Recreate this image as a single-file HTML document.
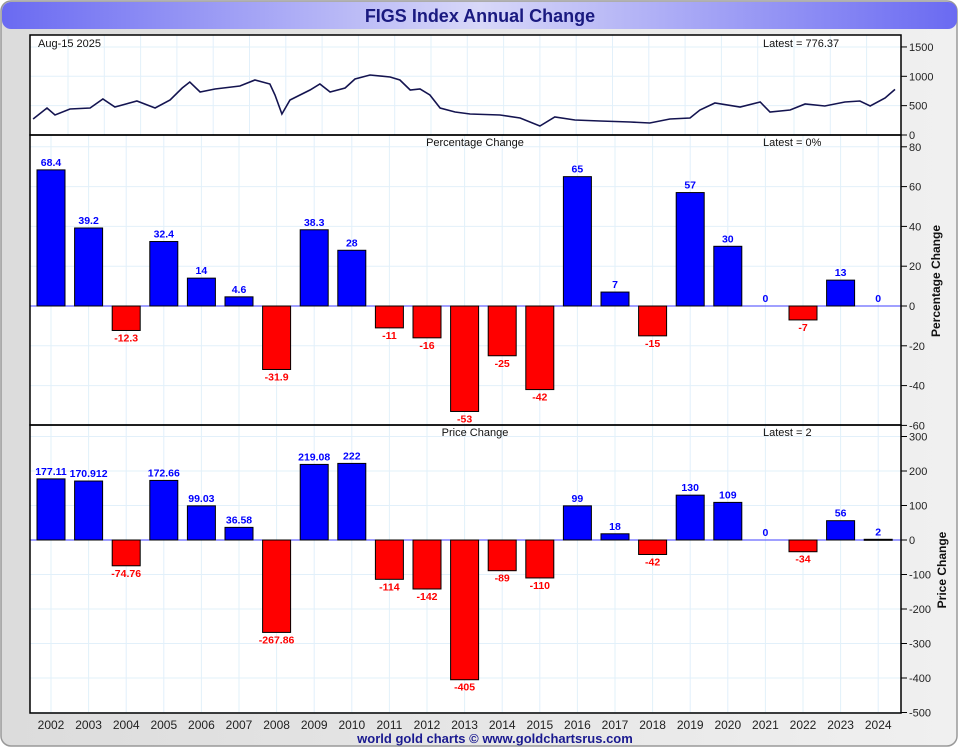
<!DOCTYPE html>
<html><head><meta charset="utf-8"><style>
body{margin:0;width:960px;height:750px;overflow:hidden;background:#fff;font-family:"Liberation Sans",sans-serif}
</style></head><body>
<svg id="c" width="960" height="750" xmlns="http://www.w3.org/2000/svg" font-family="Liberation Sans, sans-serif">
<defs>
<linearGradient id="tg" x1="0" x2="1"><stop offset="0" stop-color="#6a6af2"/><stop offset="0.5" stop-color="#d8d8f8"/><stop offset="1" stop-color="#6a6af2"/></linearGradient>
<linearGradient id="bg" x1="0" x2="1"><stop offset="0" stop-color="#dcdcdc"/><stop offset="1" stop-color="#f0f0f0"/></linearGradient>
</defs>
<rect x="1" y="1" width="956" height="745" rx="10" fill="url(#bg)" stroke="#999" stroke-width="1.5"/>
<rect x="2" y="2" width="955" height="27" rx="9" fill="url(#tg)"/>
<text x="480" y="22" text-anchor="middle" font-size="18" font-weight="bold" fill="#1a1a80">FIGS Index Annual Change</text>
<g id="g"></g>
<text x="495" y="743" text-anchor="middle" font-size="13" font-weight="bold" fill="#1a1a90">world gold charts © www.goldchartsrus.com</text>
</svg>
<script>
const years=["2002","2003","2004","2005","2006","2007","2008","2009","2010","2011","2012","2013","2014","2015","2016","2017","2018","2019","2020","2021","2022","2023","2024"];
const pctValues=[68.4,39.2,-12.3,32.4,14,4.6,-31.9,38.3,28,-11,-16,-53,-25,-42,65,7,-15,57,30,0,-7,13,0];
const pctLabels=["68.4","39.2","-12.3","32.4","14","4.6","-31.9","38.3","28","-11","-16","-53","-25","-42","65","7","-15","57","30","0","-7","13","0"];
const priceValues=[177.11,170.912,-74.76,172.66,99.03,36.58,-267.86,219.08,222,-114,-142,-405,-89,-110,99,18,-42,130,109,0,-34,56,2];
const priceLabels=["177.11","170.912","-74.76","172.66","99.03","36.58","-267.86","219.08","222","-114","-142","-405","-89","-110","99","18","-42","130","109","0","-34","56","2"];
const pctTicks=[80,60,40,20,0,-20,-40,-60];
const priceTicks=[300,200,100,0,-100,-200,-300,-400,-500];
const idxTicks=[1500,1000,500,0];
const idxDates=[2002.03,2002.41,2002.63,2003.04,2003.59,2003.94,2004.27,2004.87,2005.37,2005.78,2006.11,2006.32,2006.60,2007.01,2007.69,2008.10,2008.51,2008.65,2008.84,2009.06,2009.61,2009.88,2010.16,2010.57,2010.84,2011.25,2011.80,2012.07,2012.35,2012.62,2012.89,2013.17,2013.58,2013.99,2014.81,2015.36,2015.90,2016.31,2016.86,2017.55,2018.37,2018.91,2019.46,2020.01,2020.28,2020.69,2021.38,2021.93,2022.20,2022.75,2023.16,2023.70,2024.25,2024.66,2024.94,2025.35,2025.62];
const idxValues=[273,460,341,443,460,613,477,579,460,596,801,903,733,784,835,937,869,681,358,596,767,869,733,801,954,1022,988,937,767,784,681,460,392,358,341,290,153,307,256,239,221,204,273,290,426,545,477,562,392,426,528,494,562,579,494,630,776];

const NS="http://www.w3.org/2000/svg";
const G=document.getElementById('g');
function mk(t,a,txt){const e=document.createElementNS(NS,t);for(const k in a)e.setAttribute(k,a[k]);if(txt!==undefined)e.textContent=txt;G.appendChild(e);return e;}
const L=30,R=901,step=37.6,x0=51,bw=28;
const xYear=i=>x0+i*step;
const yIdx=v=>135-v*0.0587;
const yPct=v=>306-v*1.99;
const yPrice=v=>540-v*0.345;
const xDate=d=>32+(d-2002)*(863/23.62);

[[35,100],[135,290],[425,288]].forEach((p,i)=>{const r=mk('rect',{x:L,y:p[0],width:R-L,height:p[1],fill:'#fff'});

});
for(let i=0;i<23;i++){const x=xYear(i);
 const l=mk('line',{x1:x,x2:x,y1:135,y2:713,stroke:'#e2f0fa','stroke-width':1});
 
 }
for(let i=0;i<24;i++){const x=68+i*36.3;if(x>=R)break;
 const l=mk('line',{x1:x,x2:x,y1:35,y2:135,stroke:'#e2f0fa','stroke-width':1});
 
 }
function hgrid(ticks,f,name){ticks.forEach(t=>{const y=f(t);
 const l=mk('line',{x1:L,x2:R,y1:y,y2:y,stroke:'#e2f0fa','stroke-width':1});
 
 
 const k=mk('line',{x1:R,x2:R+6,y1:y,y2:y,stroke:'#000'});
 
 
 const tx=mk('text',{x:R+8,y:y+4,'font-size':11,fill:'#222'},String(t));
 
 });}
hgrid(idxTicks,yIdx,'index-axis');hgrid(pctTicks,yPct,'pct-axis');hgrid(priceTicks,yPrice,'price-axis');

const pts=idxDates.map((d,i)=>xDate(d).toFixed(1)+','+yIdx(idxValues[i]).toFixed(1)).join(' ');
const pl=mk('polyline',{points:pts,fill:'none',stroke:'#141450','stroke-width':1.6});



[[yPct(0),'pct-zero-line'],[yPrice(0),'price-zero-line']].forEach(z=>{const l=mk('line',{x1:L,x2:R,y1:z[0],y2:z[0],stroke:'#4040ff','stroke-width':1});
 
 });

function bars(vals,labs,f,name){vals.forEach((v,i)=>{const x=xYear(i)-bw/2,y0=f(0),y=f(v);
 if(v!==0){const r=mk('rect',{x:x,y:Math.min(y,y0),width:bw,height:Math.max(Math.abs(y-y0),1),fill:v>0?'#0000ff':'#ff0000',stroke:'#000','stroke-width':1});
 
 }
 const ty=v>=0?y-4:y+11;
 const t=mk('text',{x:xYear(i),y:ty,'text-anchor':'middle','font-size':10.5,'font-weight':'bold',fill:v>=0?'#0000ff':'#ff0000'},labs[i]);
 
 });}
bars(pctValues,pctLabels,yPct,'pct');bars(priceValues,priceLabels,yPrice,'price');

years.forEach((yr,i)=>{const t=mk('text',{x:xYear(i),y:729,'text-anchor':'middle','font-size':12,fill:'#222'},yr);
 
 });

[[35,100],[135,290],[425,288]].forEach((p,i)=>{const r=mk('rect',{x:L,y:p[0],width:R-L,height:p[1],fill:'none',stroke:'#000','stroke-width':1.5});

});

const texts=[[38,47,'start','Aug-15  2025','date-label'],[763,47,'start','Latest = 776.37','index-latest-label'],
[475,146,'middle','Percentage Change','pct-panel-title'],[763,146,'start','Latest = 0%','pct-latest-label'],
[475,436,'middle','Price Change','price-panel-title'],[763,436,'start','Latest = 2','price-latest-label']];
texts.forEach(a=>{const t=mk('text',{x:a[0],y:a[1],'text-anchor':a[2],'font-size':11,fill:'#111'},a[3]);
 
 });
const t1=mk('text',{x:940,y:281,'text-anchor':'middle','font-size':12,'font-weight':'bold',fill:'#111',transform:'rotate(-90 940 281)'},'Percentage Change');


const t2=mk('text',{x:946,y:570,'text-anchor':'middle','font-size':12,'font-weight':'bold',fill:'#111',transform:'rotate(-90 946 570)'},'Price Change');


</script>
</body></html>
